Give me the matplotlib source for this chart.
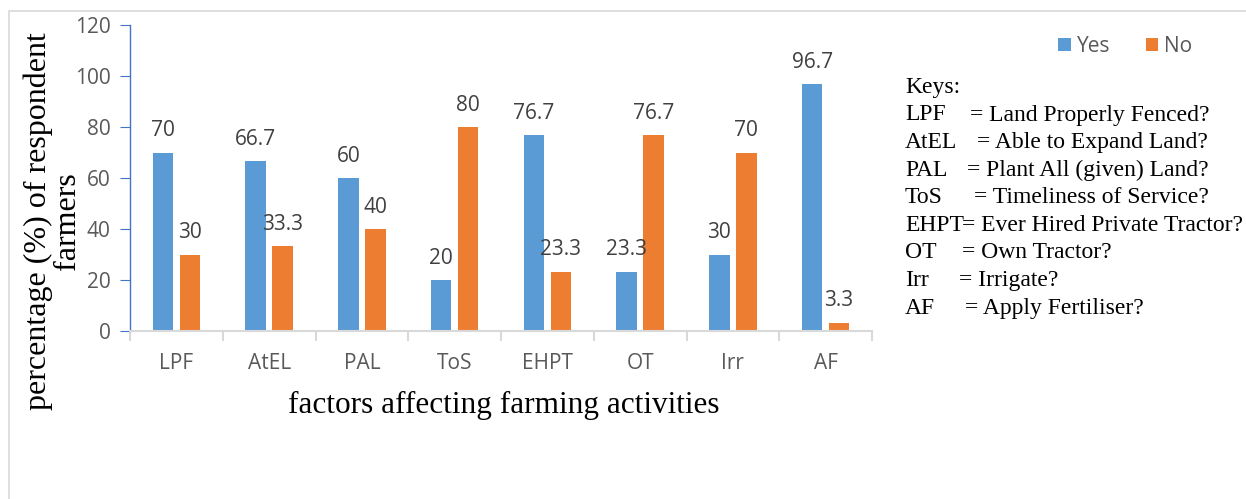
import numpy as np
import matplotlib.pyplot as plt
from matplotlib.patches import Rectangle

# percentage of respondent farmers per factor
factors = ['LPF', 'AtEL', 'PAL', 'ToS', 'EHPT', 'OT', 'Irr', 'AF']
yes_pct = [70, 66.7, 60, 20, 76.7, 23.3, 30, 96.7]
no_pct = [30, 33.3, 40, 80, 23.3, 76.7, 70, 3.3]

key_abbr = ['LPF', 'AtEL', 'PAL', 'ToS', 'EHPT', 'OT', 'Irr', 'AF']
key_text = ['= Land Properly Fenced?', '= Able to Expand Land?',
            '= Plant All (given) Land?', '= Timeliness of Service?',
            '= Ever Hired Private Tractor?', '= Own Tractor?',
            '= Irrigate?', '= Apply Fertiliser?']
key_eq_x = [970, 977, 967, 974, 962, 962, 959, 965]

blue = '#5B9BD5'
orange = '#ED7D31'
W, H = 1246, 499

fig = plt.figure(figsize=(W / 100, H / 100), dpi=100)

# thin frame around the chart area (runs off the right and bottom edge)
fig.patches.append(Rectangle((8.5 / W, -0.1), 1.2, 1.1 - 11.5 / H,
                             transform=fig.transFigure, fill=False,
                             edgecolor='#D9D9D9', linewidth=1.2))

ax = fig.add_axes([130 / W, 1 - 331 / H, 742 / W, 306 / H])

x = np.arange(len(factors))
w = 0.22
off = 0.145
b1 = ax.bar(x - off, yes_pct, w, color=blue, label='Yes')
b2 = ax.bar(x + off, no_pct, w, color=orange, label='No')

for bars, vals in [(b1, yes_pct), (b2, no_pct)]:
    for r, v in zip(bars, vals):
        ax.annotate(f'{v:g}', (r.get_x() + r.get_width() / 2, v),
                    xytext=(0, 8), textcoords='offset points',
                    ha='center', va='bottom', fontsize=15,
                    family='Open Sans', color='#404040')

ax.set_xlim(-0.5, len(factors) - 0.5)
ax.set_ylim(0, 120)
ax.set_yticks(range(0, 121, 20))
ax.set_xticks(x)
ax.set_xticklabels(factors)
ax.set_xticks(np.arange(-0.5, len(factors)), minor=True)

for s in ['top', 'right']:
    ax.spines[s].set_visible(False)
ax.spines['left'].set_color('#4472C4')
ax.spines['left'].set_linewidth(1.0)
ax.spines['bottom'].set_color('#D9D9D9')
ax.spines['bottom'].set_linewidth(1.5)

ax.tick_params(axis='y', direction='out', length=7, color='#4472C4',
               labelsize=15, labelcolor='#595959', pad=7)
ax.tick_params(axis='x', which='major', length=0, labelsize=15,
               labelcolor='#595959', pad=16)
ax.tick_params(axis='x', which='minor', length=7, color='#D9D9D9', width=1.5)
for lab in ax.get_xticklabels() + ax.get_yticklabels():
    lab.set_family('Open Sans')

# axis titles
fig.text(285 / W + 437 / W / 2, 1 - 405 / H, 'factors affecting farming activities',
         ha='center', va='center', fontsize=22.5, family='Liberation Serif')
fig.text(38 / W, 1 - 221 / H, 'percentage (%) of respondent',
         rotation=90, ha='center', va='center', fontsize=23,
         family='Liberation Serif')
fig.text(68 / W, 1 - 221 / H, 'farmers',
         rotation=90, ha='center', va='center', fontsize=23,
         family='Liberation Serif')

fig.legend(handles=[b1, b2], labels=['Yes', 'No'], ncol=2, frameon=False,
           loc='center left', bbox_to_anchor=(1058 / W, 1 - 46 / H),
           prop={'family': 'Open Sans', 'size': 15}, labelcolor='#595959',
           handlelength=0.6, handleheight=0.6, handletextpad=0.3,
           columnspacing=1.7, borderaxespad=0, borderpad=0)

# abbreviation keys on the right
fig.text(905 / W, 1 - 88 / H, 'Keys:', ha='left', va='center',
         fontsize=17, family='Liberation Serif')
for i, (a, t, ex) in enumerate(zip(key_abbr, key_text, key_eq_x)):
    yy = 1 - (115 + 27.6 * i) / H
    fig.text(905 / W, yy, a, ha='left', va='center', fontsize=17,
             family='Liberation Serif')
    fig.text(ex / W, yy, t, ha='left', va='center', fontsize=17,
             family='Liberation Serif')

fig.savefig('out.png', dpi=100)
